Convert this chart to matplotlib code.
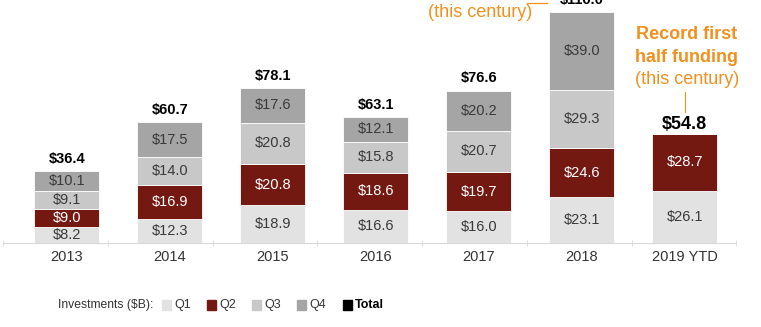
import numpy as np
import matplotlib.pyplot as plt
from matplotlib.patches import Rectangle

plt.rcParams['font.family'] = ['Liberation Sans', 'DejaVu Sans']

years = ['2013', '2014', '2015', '2016', '2017', '2018', '2019 YTD']
q1 = [8.2, 12.3, 18.9, 16.6, 16.0, 23.1, 26.1]
q2 = [9.0, 16.9, 20.8, 18.6, 19.7, 24.6, 28.7]
q3 = [9.1, 14.0, 20.8, 15.8, 20.7, 29.3, 0]
q4 = [10.1, 17.5, 17.6, 12.1, 20.2, 39.0, 0]
totals = [36.4, 60.7, 78.1, 63.1, 76.6, 116.0, 54.8]

series = [q1, q2, q3, q4]
names = ['Q1', 'Q2', 'Q3', 'Q4', 'Total']
colors = ['#e2e2e2', '#731912', '#c8c8c8', '#a5a5a5', '#000000']
txt_colors = ['#3a3a3a', '#ffffff', '#3a3a3a', '#3a3a3a']
orange = '#f0901e'

fig = plt.figure(figsize=(7.61, 3.27), dpi=100)
ax = fig.add_axes([0, 84 / 327, 1, 243 / 327])
x = np.arange(len(years))
bottom = np.zeros(len(years))
for vals, col, tcol in zip(series, colors, txt_colors):
    v = np.array(vals, dtype=float)
    ax.bar(x, v, 0.63, bottom=bottom, color=col, edgecolor='white', linewidth=0.6)
    for xi, b, h in zip(x, bottom, v):
        if h > 0:
            ax.text(xi, b + h / 2, f'${h:.1f}', ha='center', va='center',
                    color=tcol, fontsize=10.5)
    bottom += v

# totals
for xi, t in zip(x, totals):
    last = xi == len(years) - 1
    ax.annotate(f'${t:.1f}', (xi, t), xytext=(0, 3.6 if last else 5.8),
                textcoords='offset points', ha='center', va='baseline',
                fontsize=13 if last else 10.5, fontweight='bold',
                color='black', annotation_clip=False)

# callout for 2019
t19 = totals[-1]
ax.plot([6, 6], [t19 + 11, t19 + 21], color=orange, lw=0.8)
ax.annotate('(this century)', (6, t19), xytext=(1.5, 39), textcoords='offset points',
            ha='center', va='center', color=orange, fontsize=13, annotation_clip=False)
ax.annotate('half funding', (6, t19), xytext=(1.5, 55), textcoords='offset points',
            ha='center', va='center', color=orange, fontsize=13, fontweight='bold',
            annotation_clip=False)
ax.annotate('Record first', (6, t19), xytext=(1.5, 71.5), textcoords='offset points',
            ha='center', va='center', color=orange, fontsize=13, fontweight='bold',
            annotation_clip=False)

# callout for 2018 (cut off at top)
t18 = totals[5]
ax.annotate('(this century)', (5, t18), xytext=(-73, 0), textcoords='offset points',
            ha='center', va='center', color=orange, fontsize=13, annotation_clip=False)
ax.annotate('funding', (5, t18), xytext=(-43, 17.5), textcoords='offset points',
            ha='right', va='center', color=orange, fontsize=13, fontweight='bold',
            annotation_clip=False)
ax.plot([5 - 55 / 103, 5 - 35 / 103], [t18 + 4.5, t18 + 4.5], color=orange, lw=0.9,
        clip_on=False)

ax.set_xlim(-0.65, 6.74)
ax.set_ylim(0, 122.1)
for s in ['top', 'right', 'left']:
    ax.spines[s].set_visible(False)
ax.spines['bottom'].set_color('#d9d9d9')
ax.spines['bottom'].set_bounds(-0.62, 6.5)
ax.set_yticks([])
ax.set_xticks(x)
ax.set_xticklabels(years, fontsize=10.5, color='#333333')
ax.tick_params(axis='x', which='major', length=0, pad=5)
ax.set_xticks(np.linspace(-0.62, 6.5, 8), minor=True)
ax.tick_params(axis='x', which='minor', length=5, direction='inout', color='#d9d9d9')

# legend row
lg = fig.add_axes([0, 0, 1, 1])
lg.set_xlim(0, 761)
lg.set_ylim(327, 0)
lg.axis('off')
lg.text(58, 305, 'Investments ($B):', ha='left', va='center', fontsize=8.7,
        color='#333333')
sq_x = [162, 207, 252, 297, 343]
for sx, name, col in zip(sq_x, names, colors):
    lg.add_patch(Rectangle((sx, 300), 8.5, 10, color=col))
    lg.text(sx + 12, 305, name, ha='left', va='center', fontsize=9,
            fontweight='bold' if name == 'Total' else 'normal',
            color='black' if name == 'Total' else '#333333')

fig.savefig('out.png', dpi=100)
